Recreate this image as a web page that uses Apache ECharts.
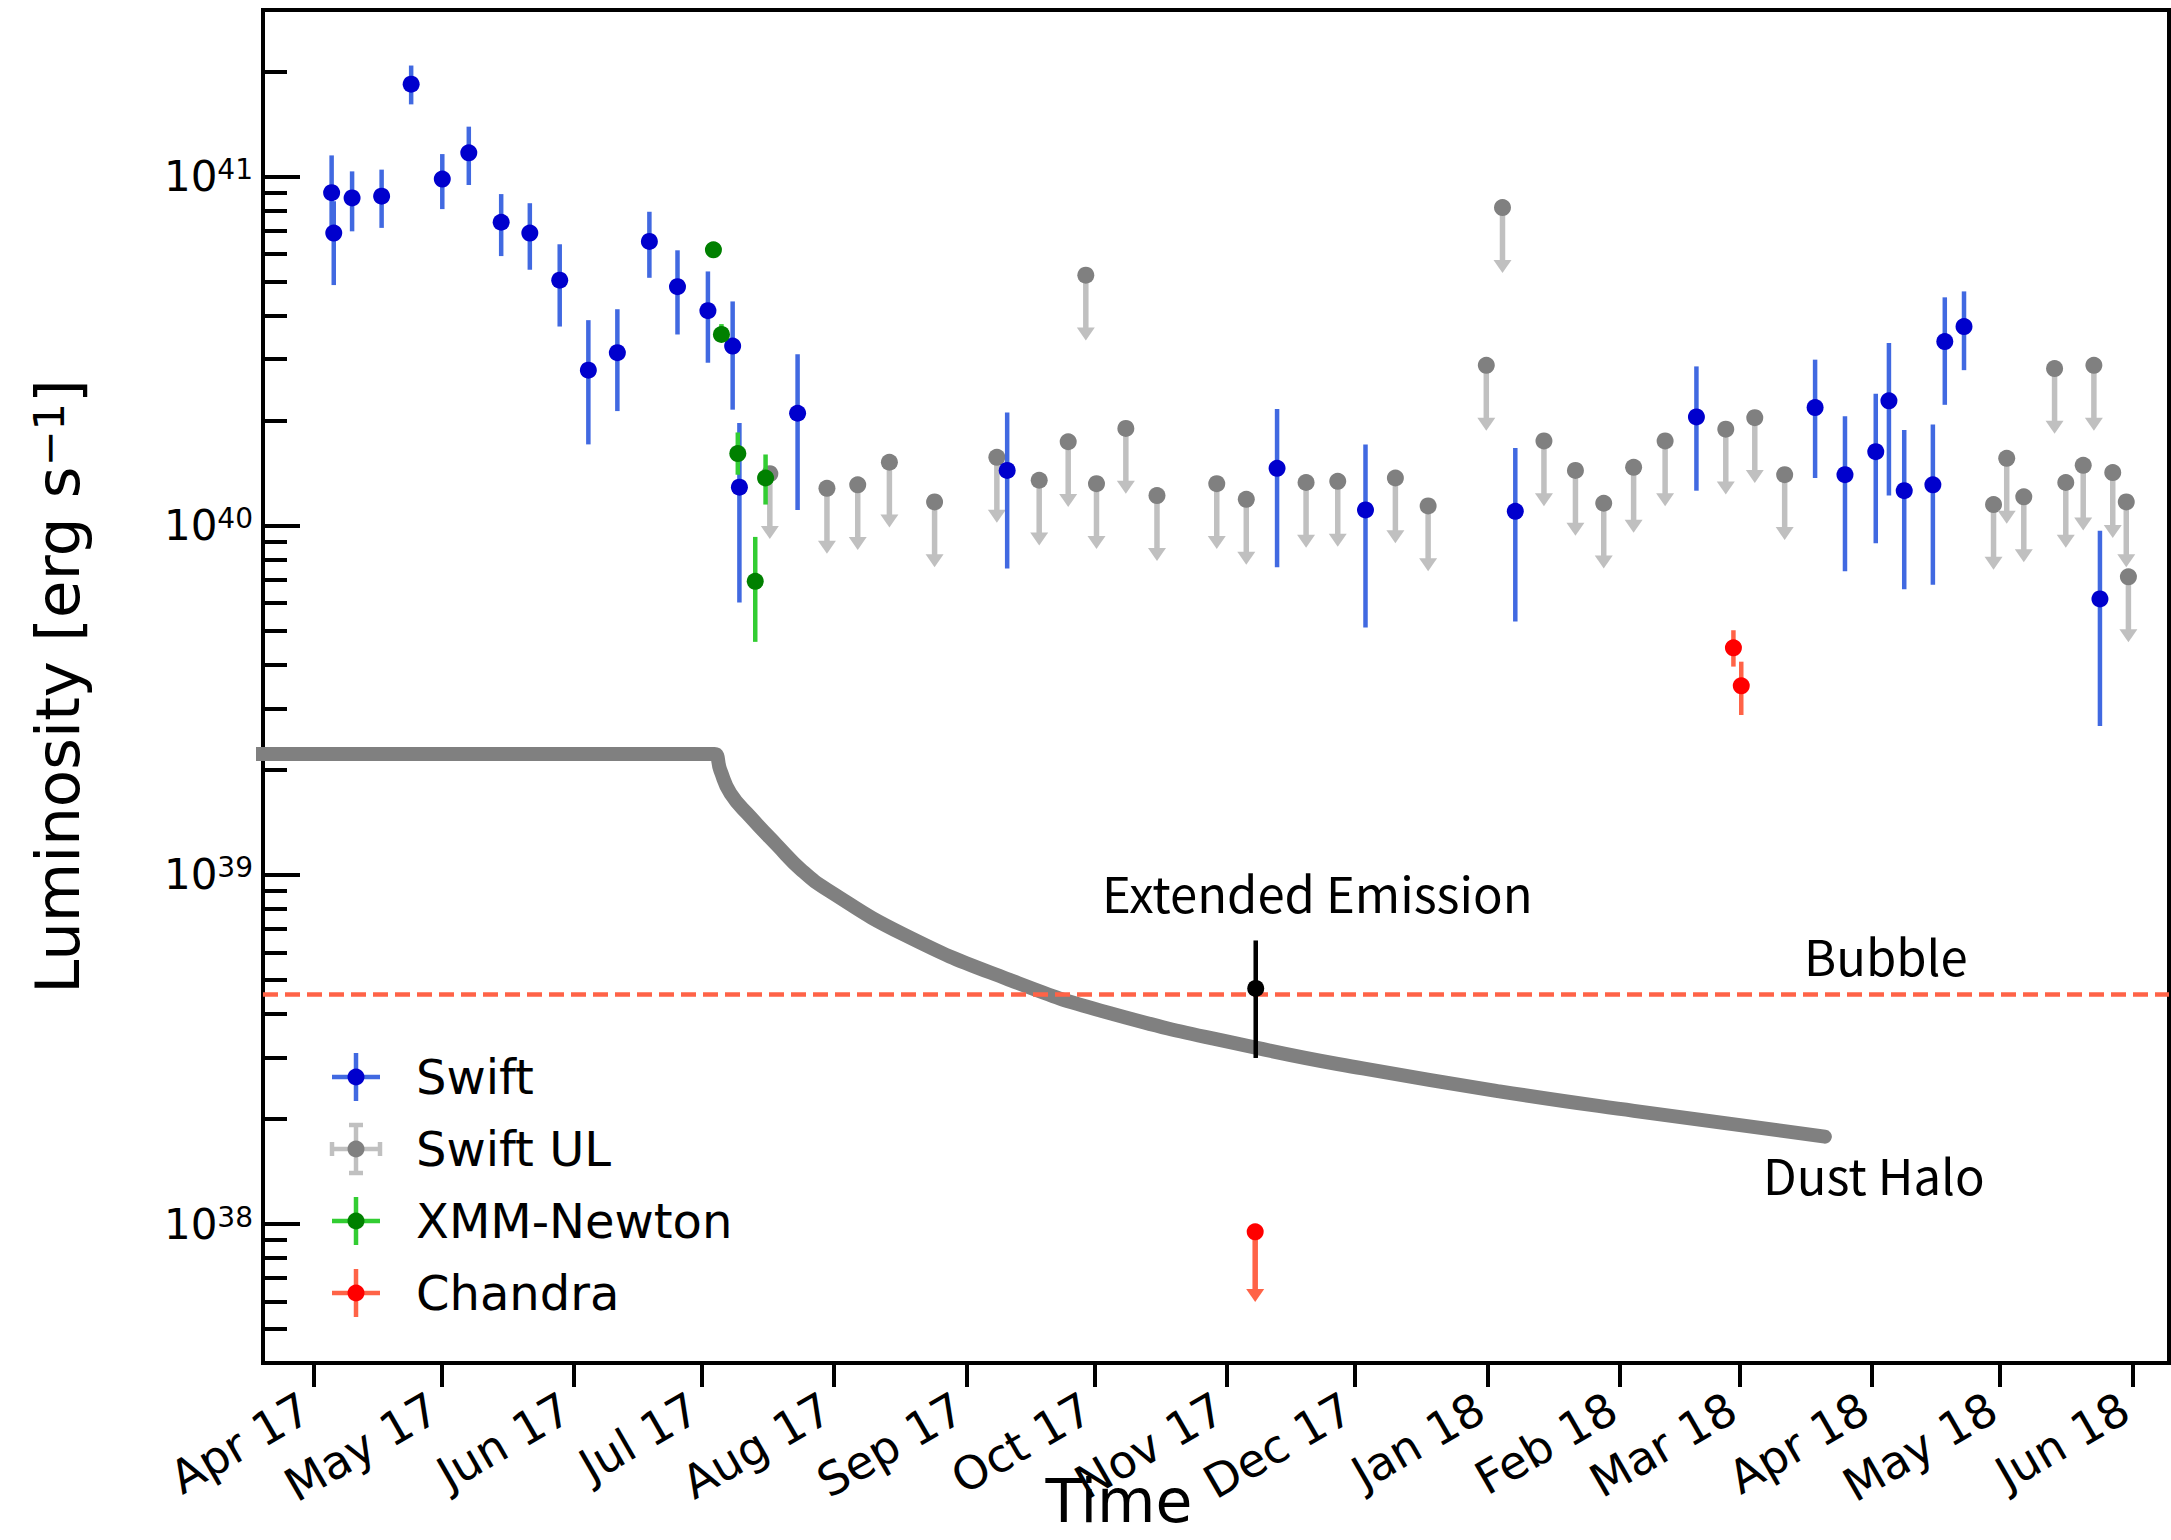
<!DOCTYPE html>
<html>
<head>
<meta charset="utf-8">
<title>Luminosity light curve</title>
<script src="https://cdn.jsdelivr.net/npm/echarts@6.0.0/dist/echarts.min.js"></script>
<style>
  html, body { margin: 0; padding: 0; background: #fff; }
  #chart { width: 2171px; height: 1540px; }
</style>
</head>
<body>
<div id="chart"></div>
<script>
// luminosities are in units of 1e40 erg/s
const UNIT = 1e40;

// Swift detections
const swiftDates = ['2017-04-05T07:00', '2017-04-05T19:00', '2017-04-10T02:00', '2017-04-17T00:00',
  '2017-04-23T22:00', '2017-05-01T05:00', '2017-05-07T10:00', '2017-05-15T00:00', '2017-05-21T17:00',
  '2017-05-28T17:00', '2017-06-04T10:00', '2017-06-11T05:00', '2017-06-18T17:00', '2017-06-25T07:00',
  '2017-07-02T10:00', '2017-07-08T05:00', '2017-07-09T19:00', '2017-07-23T10:00', '2017-09-10T12:00',
  '2017-11-12T17:00', '2017-12-03T10:00', '2018-01-07T12:00', '2018-02-18T22:00', '2018-03-18T17:00',
  '2018-03-25T17:00', '2018-04-01T22:00', '2018-04-05T00:00', '2018-04-08T14:00', '2018-04-15T07:00',
  '2018-04-18T02:00', '2018-04-22T14:00', '2018-05-24T10:00'];
const swiftL = [8.99, 6.89, 8.69, 8.79, 18.4, 9.84, 11.7, 7.40, 6.89, 5.05, 2.79, 3.13, 6.52, 4.84,
  4.13, 3.27, 1.29, 2.10, 1.44, 1.46, 1.11, 1.10, 2.05, 2.18, 1.40, 1.63, 2.28, 1.26, 1.31, 3.37, 3.72, 0.617];
const swiftHi = [11.5, 8.5, 10.35, 10.47, 20.8, 11.6, 13.9, 8.91, 8.39, 6.40, 3.88, 4.17, 7.93, 6.15,
  5.35, 4.39, 1.97, 3.10, 2.11, 2.16, 1.71, 1.67, 2.86, 2.99, 2.06, 2.39, 3.34, 1.88, 1.95, 4.51, 4.69, 0.968];
const swiftLo = [7.08, 4.89, 6.97, 7.13, 16.1, 8.07, 9.46, 5.92, 5.41, 3.72, 1.71, 2.13, 5.13, 3.53,
  2.93, 2.15, 0.603, 1.11, 0.754, 0.760, 0.511, 0.532, 1.26, 1.37, 0.741, 0.891, 1.22, 0.658, 0.678, 2.22, 2.79, 0.267];

// Swift upper limits
const ulDates = ['2017-07-16T22:00', '2017-07-30T07:00', '2017-08-06T12:00', '2017-08-13T22:00',
  '2017-08-24T12:00', '2017-09-08T02:00', '2017-09-18T00:00', '2017-09-24T19:00', '2017-09-28T22:00',
  '2017-10-01T10:00', '2017-10-08T07:00', '2017-10-15T14:00', '2017-10-29T14:00', '2017-11-05T12:00',
  '2017-11-19T12:00', '2017-11-26T22:00', '2017-12-10T10:00', '2017-12-18T02:00', '2017-12-31T17:00',
  '2018-01-04T12:00', '2018-01-14T05:00', '2018-01-21T14:00', '2018-01-28T05:00', '2018-02-04T05:00',
  '2018-02-11T14:00', '2018-02-25T19:00', '2018-03-04T14:00', '2018-03-11T14:00', '2018-04-29T12:00',
  '2018-05-02T14:00', '2018-05-06T14:00', '2018-05-13T19:00', '2018-05-16T10:00', '2018-05-20T12:00',
  '2018-05-23T00:00', '2018-05-27T10:00', '2018-05-30T14:00', '2018-05-31T02:00'];
const ulL = [1.41, 1.28, 1.31, 1.52, 1.17, 1.57, 1.35, 1.74, 5.22, 1.32, 1.90, 1.22, 1.32, 1.19,
  1.33, 1.34, 1.37, 1.14, 2.88, 8.15, 1.75, 1.44, 1.16, 1.47, 1.75, 1.89, 2.04, 1.40, 1.15,
  1.56, 1.21, 2.82, 1.33, 1.49, 2.88, 1.42, 1.17, 0.714];

// XMM-Newton
const xmmDates = ['2017-07-03T17:00', '2017-07-05T14:00', '2017-07-09T10:00', '2017-07-13T12:00', '2017-07-15T22:00'];
const xmmL = [6.17, 3.53, 1.61, 0.693, 1.37];
const xmmHi = [6.30, 3.78, 1.85, 0.929, 1.60];
const xmmLo = [6.05, 3.37, 1.40, 0.465, 1.15];

// Chandra
const chandraDates = ['2018-02-27T14:00', '2018-03-01T10:00'];
const chandraL = [0.447, 0.348];
const chandraHi = [0.502, 0.408];
const chandraLo = [0.395, 0.287];
const chandraUlDates = ['2017-11-07T14:00'];
const chandraUlL = [0.0095];

// extended emission
const extDates = ['2017-11-07T17:00'];
const extL = [0.0473];
const extHi = [0.0649];
const extLo = [0.0299];

// bubble level and dust halo model
const bubbleL = 0.0455;
const haloDates = ['2017-03-10T00:00', '2017-06-20T00:00', '2017-07-02T00:00', '2017-07-04T00:00',
  '2017-07-05T07:00', '2017-07-07T17:00', '2017-07-12T12:00', '2017-07-18T12:00', '2017-07-24T10:00',
  '2017-07-30T10:00', '2017-08-17T07:00', '2017-09-10T05:00', '2017-10-04T05:00', '2017-11-07T17:00',
  '2017-12-02T19:00', '2018-01-03T19:00', '2018-02-04T07:00', '2018-03-21T00:00'];
const haloL = [0.222, 0.222, 0.222, 0.222, 0.200, 0.171, 0.146, 0.122, 0.103, 0.0906,
  0.0675, 0.0505, 0.0403, 0.0320, 0.0279, 0.0240, 0.0211, 0.0178];

// upper-limit arrows reach down to this fraction of the limit
const UL_DROP = 0.65;
const UL_DROP_CHANDRA = 0.63;

// axes
const xMin = '2017-03-20T05:17';
const xMax = '2018-06-09T14:10';
const xTickDates = ['2017-04-01T00:00', '2017-05-01T00:00', '2017-06-01T00:00', '2017-07-01T00:00',
  '2017-08-01T00:00', '2017-09-01T00:00', '2017-10-01T00:00', '2017-11-01T00:00', '2017-12-01T00:00',
  '2018-01-01T00:00', '2018-02-01T00:00', '2018-03-01T00:00', '2018-04-01T00:00', '2018-05-01T00:00',
  '2018-06-01T00:00'];
const yMin = 4e37;
const yMax = 3e41;
const yMajor = [1e38, 1e39, 1e40, 1e41];
const yMinor = [5e37, 6e37, 7e37, 8e37, 9e37,
  2e38, 3e38, 4e38, 5e38, 6e38, 7e38, 8e38, 9e38,
  2e39, 3e39, 4e39, 5e39, 6e39, 7e39, 8e39, 9e39,
  2e40, 3e40, 4e40, 5e40, 6e40, 7e40, 8e40, 9e40,
  2e41];
const MONTHS = ['Jan', 'Feb', 'Mar', 'Apr', 'May', 'Jun', 'Jul', 'Aug', 'Sep', 'Oct', 'Nov', 'Dec'];

const FONT = 'DejaVu Sans';
const NOTE_FONT = 'Noto Sans CJK JP';

function ts(s) { return Date.parse(s + 'Z'); }

function points(dates, vals, lo, hi) {
  return dates.map((d, i) => [ts(d), vals[i] * UNIT, (lo ? lo[i] : vals[i]) * UNIT, (hi ? hi[i] : vals[i]) * UNIT]);
}

function errorBarItem(barColor, dotColor) {
  return function (params, api) {
    const x = api.value(0);
    const p = api.coord([x, api.value(1)]);
    const lo = api.coord([x, api.value(2)]);
    const hi = api.coord([x, api.value(3)]);
    return {
      type: 'group',
      children: [
        { type: 'line', shape: { x1: p[0], y1: lo[1], x2: p[0], y2: hi[1] },
          style: { stroke: barColor, lineWidth: 4.5 } },
        { type: 'circle', shape: { cx: p[0], cy: p[1], r: 8.5 }, style: { fill: dotColor } }
      ]
    };
  };
}

function upperLimitItem(arrowColor, dotColor, drop) {
  return function (params, api) {
    const x = api.value(0);
    const p = api.coord([x, api.value(1)]);
    const tip = api.coord([x, api.value(1) * drop]);
    const headH = 13, headW = 9;
    return {
      type: 'group',
      children: [
        { type: 'line', shape: { x1: p[0], y1: p[1], x2: p[0], y2: tip[1] - headH + 1 },
          style: { stroke: arrowColor, lineWidth: 5.5 } },
        { type: 'polygon', shape: { points: [[p[0] - headW, tip[1] - headH], [p[0] + headW, tip[1] - headH], [p[0], tip[1]]] },
          style: { fill: arrowColor } },
        { type: 'circle', shape: { cx: p[0], cy: p[1], r: 8.5 }, style: { fill: dotColor } }
      ]
    };
  };
}

function customSeries(name, data, renderItem, z) {
  return {
    name: name,
    type: 'custom',
    data: data,
    renderItem: renderItem,
    encode: { x: 0, y: [1, 2, 3] },
    z: z,
    silent: true
  };
}

// legend drawn by hand so that bar and marker colours differ like in matplotlib
const legendRows = [
  { text: 'Swift', bar: '#4169e1', dot: '#0000cd', caps: false },
  { text: 'Swift UL', bar: '#c0c0c0', dot: '#808080', caps: true },
  { text: 'XMM-Newton', bar: '#32cd32', dot: '#008000', caps: false },
  { text: 'Chandra', bar: '#ff6347', dot: '#ff0000', caps: false }
];

function legendGraphic() {
  return legendRows.map(function (row, i) {
    const lw = 4.5;
    const children = [
      { type: 'line', shape: { x1: -24, y1: 0, x2: 24, y2: 0 }, style: { stroke: row.bar, lineWidth: lw } },
      { type: 'line', shape: { x1: 0, y1: -24, x2: 0, y2: 24 }, style: { stroke: row.bar, lineWidth: lw } }
    ];
    if (row.caps) {
      children.push(
        { type: 'line', shape: { x1: -24, y1: -7, x2: -24, y2: 7 }, style: { stroke: row.bar, lineWidth: lw } },
        { type: 'line', shape: { x1: 24, y1: -7, x2: 24, y2: 7 }, style: { stroke: row.bar, lineWidth: lw } },
        { type: 'line', shape: { x1: -7, y1: -24, x2: 7, y2: -24 }, style: { stroke: row.bar, lineWidth: lw } },
        { type: 'line', shape: { x1: -7, y1: 24, x2: 7, y2: 24 }, style: { stroke: row.bar, lineWidth: lw } }
      );
    }
    children.push(
      { type: 'circle', shape: { cx: 0, cy: 0, r: 8.5 }, style: { fill: row.dot } },
      { type: 'text', x: 60, y: 0, style: { text: row.text, fontSize: 48, fontFamily: FONT, fill: '#000', verticalAlign: 'middle' } }
    );
    return { type: 'group', x: 356, y: 1077 + i * 72, children: children };
  });
}

const chart = echarts.init(document.getElementById('chart'), null, { renderer: 'svg' });

chart.setOption({
  backgroundColor: '#fff',
  animation: false,
  grid: {
    left: 263, right: 2, top: 10, bottom: 177,
    containLabel: false,
    outerBoundsMode: 'none',
    show: true, borderColor: '#000', borderWidth: 4, backgroundColor: 'transparent'
  },
  xAxis: {
    type: 'value',
    min: ts(xMin),
    max: ts(xMax),
    splitLine: { show: false },
    axisLine: { show: false },
    axisTick: { show: true, inside: false, length: 24, lineStyle: { color: '#000', width: 4 },
      customValues: xTickDates.map(ts) },
    axisLabel: {
      customValues: xTickDates.map(ts),
      rotate: 30,
      margin: 38,
      padding: [0, 8, 0, 0],
      fontSize: 46,
      fontFamily: FONT,
      color: '#000',
      formatter: function (v) {
        const d = new Date(v);
        return MONTHS[d.getUTCMonth()] + ' ' + String(d.getUTCFullYear()).slice(2);
      }
    },
    name: 'Time',
    nameLocation: 'middle',
    nameGap: 108,
    nameMoveOverlap: false,
    nameTextStyle: { fontSize: 60, lineHeight: 60, fontFamily: FONT, color: '#000', padding: [0, 194, 0, 0] }
  },
  yAxis: [{
    type: 'log',
    logBase: 10,
    position: 'left',
    min: yMin,
    max: yMax,
    splitLine: { show: false },
    axisLine: { show: false },
    axisTick: { show: true, inside: true, length: 37, lineStyle: { color: '#000', width: 4 },
      customValues: yMajor },
    axisLabel: {
      customValues: yMajor,
      margin: 10,
      formatter: function (v) {
        return '{b|10}{s|' + Math.round(Math.log10(v)) + '}';
      },
      rich: {
        b: { fontSize: 42, fontFamily: FONT, color: '#000' },
        s: { fontSize: 28, fontFamily: FONT, color: '#000', verticalAlign: 'top' }
      }
    },
    name: '{t|Luminosity [erg s}{s|\u22121}{t|]}',
    nameLocation: 'middle',
    nameRotate: 90,
    nameGap: 175,
    nameMoveOverlap: false,
    nameTextStyle: {
      rich: {
        t: { fontSize: 61, fontFamily: FONT, color: '#000' },
        s: { fontSize: 43, fontFamily: FONT, color: '#000', verticalAlign: 'top' }
      }
    }
  }, {
    type: 'log',
    logBase: 10,
    position: 'left',
    offset: 0,
    min: yMin,
    max: yMax,
    splitLine: { show: false },
    axisLine: { show: false },
    axisLabel: { show: false },
    axisTick: { show: true, inside: true, length: 24, lineStyle: { color: '#000', width: 4 },
      customValues: yMinor }
  }],
  graphic: legendGraphic().concat([
    { type: 'text', x: 1102, y: 891, style: { text: 'Extended Emission', fontSize: 49, fontFamily: NOTE_FONT, fill: '#000', verticalAlign: 'middle' } },
    { type: 'text', x: 1804, y: 954, style: { text: 'Bubble', fontSize: 49, fontFamily: NOTE_FONT, fill: '#000', verticalAlign: 'middle' } },
    { type: 'text', x: 1763, y: 1173, style: { text: 'Dust Halo', fontSize: 49, fontFamily: NOTE_FONT, fill: '#000', verticalAlign: 'middle' } }
  ]),
  series: [
    {
      name: 'Dust Halo',
      type: 'line',
      data: haloDates.map((d, i) => [ts(d), haloL[i] * UNIT]),
      showSymbol: false,
      smooth: 0.5,
      clip: true,
      silent: true,
      z: 1,
      lineStyle: { color: '#808080', width: 14, cap: 'round', join: 'round' },
      markLine: {
        silent: true,
        symbol: 'none',
        label: { show: false },
        lineStyle: { color: '#ff6347', width: 4.5, type: [15, 7] },
        data: [{ yAxis: bubbleL * UNIT }]
      }
    },
    customSeries('Swift UL', points(ulDates, ulL), upperLimitItem('#c0c0c0', '#808080', UL_DROP), 2),
    customSeries('Swift', points(swiftDates, swiftL, swiftLo, swiftHi), errorBarItem('#4169e1', '#0000cd'), 3),
    customSeries('XMM-Newton', points(xmmDates, xmmL, xmmLo, xmmHi), errorBarItem('#32cd32', '#008000'), 4),
    customSeries('Chandra', points(chandraDates, chandraL, chandraLo, chandraHi), errorBarItem('#ff6347', '#ff0000'), 5),
    customSeries('Chandra UL', points(chandraUlDates, chandraUlL), upperLimitItem('#ff6347', '#ff0000', UL_DROP_CHANDRA), 5),
    customSeries('Extended Emission', points(extDates, extL, extLo, extHi), errorBarItem('#000', '#000'), 5)
  ]
});
</script>
</body>
</html>
